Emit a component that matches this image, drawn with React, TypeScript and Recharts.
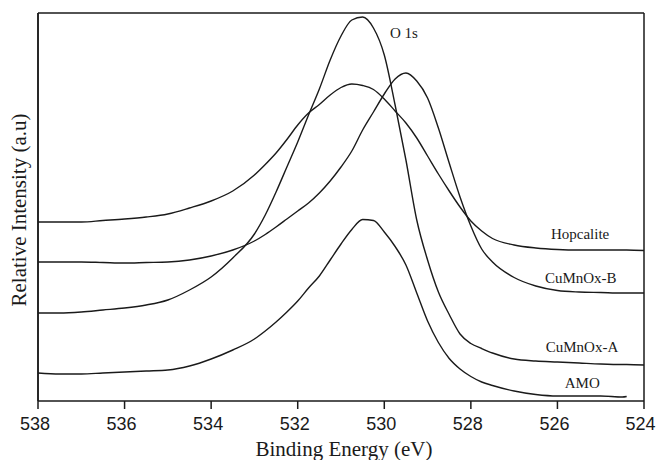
import { CartesianGrid, Line, LineChart, ReferenceDot, ReferenceLine, XAxis, YAxis } from 'recharts';

// binding energy grid (eV), shared by all four spectra
const bindingEnergy = [
  538, 537.5, 537, 536.5, 536, 535.5, 535, 534.5, 534, 533.5,
  533, 532.75, 532.5, 532.25, 532, 531.75, 531.5, 531.25, 531, 530.75,
  530.5, 530.25, 530, 529.75, 529.5, 529.25, 529, 528.75, 528.5, 528.25,
  528, 527.75, 527.5, 527, 526.5, 526, 525.5, 525, 524.5, 524.4, 524,
];

const hopcalite = [
  179, 179, 179, 180.5, 182, 184, 187, 193, 200, 210,
  226, 236.5, 248, 261.5, 276, 288, 296.5, 306, 313.5, 317,
  315.5, 311.5, 302, 290, 278, 263, 245, 227, 210, 194,
  180, 170, 162.5, 156, 153, 151.5, 151, 151, 151, 151, 150.5,
];

const cuMnOxB = [
  139, 139, 139, 138.5, 138, 138.5, 139, 141, 145, 151,
  160, 166.5, 174, 182, 190, 198, 208, 220, 234, 250,
  271, 289, 307, 322, 328, 320, 303, 273, 238, 204,
  175, 152, 139, 123.5, 115, 110.5, 109, 108.5, 108, 108, 108,
];

const cuMnOxA = [
  88, 88, 89, 91, 93, 96, 101, 111, 124, 143,
  167, 186, 209, 234, 259, 286, 312, 341, 365, 381,
  384, 373, 346, 296, 241, 181, 141, 109, 86.5, 67,
  57.5, 52.5, 48, 42, 40, 39, 38, 37, 36.5, 36.5, 36,
];

const amo = [
  28, 27, 27, 28, 29, 30, 31, 35, 42, 51,
  62, 70, 79, 89, 100, 113, 125, 141, 157, 171.5,
  181.5, 180.5, 169, 154.5, 136, 108, 80, 58.5, 42.5, 32,
  24.5, 19, 15.5, 10, 6.5, 5, 5, 5, 4, 4.5, null,
];

const xTicks = [538, 536, 534, 532, 530, 528, 526, 524];

const toSeries = (values: (number | null)[]) =>
  bindingEnergy.map((e, i) => ({ e, v: values[i] }));

const series = [
  { name: 'Hopcalite', data: toSeries(hopcalite) },
  { name: 'CuMnOx-B', data: toSeries(cuMnOxB) },
  { name: 'CuMnOx-A', data: toSeries(cuMnOxA) },
  { name: 'AMO', data: toSeries(amo) },
];

// text labels inside the plot (left edge / baseline in data units)
const notes = [
  { text: 'O 1s', e: 529.87, v: 363 },
  { text: 'Hopcalite', e: 526.15, v: 162 },
  { text: 'CuMnOx-B', e: 526.29, v: 118 },
  { text: 'CuMnOx-A', e: 526.27, v: 49 },
  { text: 'AMO', e: 525.83, v: 13 },
];

const serif = '"Liberation Serif", "Times New Roman", serif';
const sans = '"Liberation Sans", Arial, sans-serif';
const ink = '#1a1a1a';
const W = 657;
const H = 460;
const margin = { top: 13, right: 13, bottom: 0, left: 37 };
const xAxisH = 59;
const plotLeft = margin.left + 1;
const plotRight = W - margin.right;

export default function App() {
  return (
    <div style={{ position: 'absolute', left: 0, top: 0, background: '#fff' }}>
      <LineChart width={W} height={H} margin={margin}>
        {/* frame: top edge and the two side edges */}
        <CartesianGrid
          horizontalPoints={[margin.top]}
          verticalPoints={[plotLeft, plotRight]}
          stroke={ink}
          strokeWidth={1.5}
          strokeDasharray=""
        />
        <XAxis
          dataKey="e"
          type="number"
          domain={[524, 538]}
          reversed
          allowDataOverflow
          ticks={xTicks}
          height={xAxisH}
          tickSize={8}
          tickMargin={8}
          stroke={ink}
          strokeWidth={1.5}
          tick={{ fontSize: 18, fontFamily: sans, fill: ink, dx: -3 }}
          label={{
            content: (p: any) => (
              <text x={p.viewBox.x + p.viewBox.width / 2 + 3} y={456} textAnchor="middle"
                fontFamily={serif} fontSize={21} fill={ink}>Binding Energy (eV)</text>
            ),
          }}
        />
        <YAxis
          type="number"
          domain={[0, 388]}
          allowDataOverflow
          width={1}
          tick={false}
          tickLine={false}
          axisLine={false}
          label={{
            content: (p: any) => {
              const cx = 26;
              const cy = p.viewBox.y + p.viewBox.height / 2 + 3;
              return (
                <text x={cx} y={cy} textAnchor="middle" transform={`rotate(-90, ${cx}, ${cy})`}
                  fontFamily={serif} fontSize={21} fill={ink}>Relative Intensity (a.u)</text>
              );
            },
          }}
        />
        <ReferenceLine segment={[{ x: 538, y: 0 }, { x: 538, y: 388 }]} ifOverflow="visible"
          stroke={ink} strokeWidth={1.5} />
        {series.map((s) => (
          <Line key={s.name} data={s.data} dataKey="v" name={s.name} type="monotone"
            stroke={ink} strokeWidth={1.4} dot={false} activeDot={false} isAnimationActive={false} />
        ))}
        {notes.map((n) => (
          <ReferenceDot key={n.text} x={n.e} y={n.v} r={1}
            shape={(p: any) => (
              <text x={p.cx} y={p.cy} fontFamily={serif} fontSize={15} fill={ink}>{n.text}</text>
            )}
          />
        ))}
      </LineChart>
    </div>
  );
}
